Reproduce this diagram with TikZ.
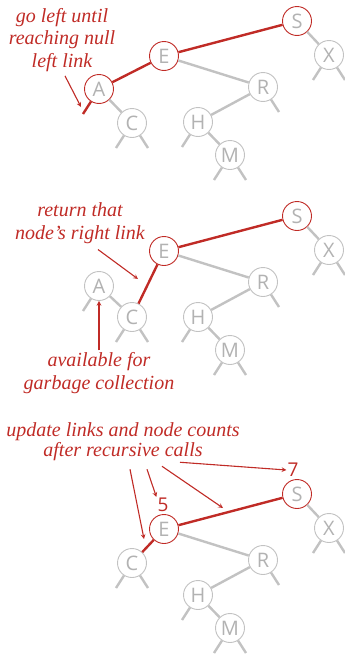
\documentclass[tikz,border=0pt]{standalone}
\usepackage{fontspec}
\setsansfont{Open Sans}
\newfontfamily\notefont{Liberation Serif}
\usepackage{tikz}
\usetikzlibrary{arrows, positioning, calc}
\definecolor{bookred}{RGB}{192,43,38}
\definecolor{linkgray}{RGB}{194,194,194}
\definecolor{keygray}{RGB}{178,178,178}

\begin{document}
\begin{tikzpicture}[
    x=1pt, y=-1pt,
    bstnode/.style={circle, draw=linkgray, line width=0.9pt, fill=white, minimum size=29pt, inner sep=0pt, text=keygray, font=\sffamily\fontsize{20}{20}\selectfont},
    hot/.style={draw=bookred},
    link/.style={draw=linkgray, line width=2.4pt},
    redlink/.style={draw=bookred, line width=2.4pt},
    note/.style={text=bookred, align=center, inner sep=2pt, font=\notefont\itshape\fontsize{20}{22.5}\selectfont},
    count/.style={text=bookred, inner sep=1pt, font=\sffamily\fontsize{19}{19}\selectfont},
    arrow/.style={draw=bookred, line width=1.1pt, ->, >=stealth}
]
    \useasboundingbox (0,0) rectangle (345,656);

    % go left until reaching null left link
    \node (S1) [bstnode, hot] at (297,21) {S};
    \node (X1) [bstnode] at (329,55) {X};
    \node (E1) [bstnode, hot] at (164,56) {E};
    \node (A1) [bstnode, hot] at (99,89) {A};
    \node (R1) [bstnode] at (263,87) {R};
    \node (C1) [bstnode] at (132,123) {C};
    \node (H1) [bstnode] at (198,122) {H};
    \node (M1) [bstnode] at (230,155) {M};

    \draw [redlink] (S1) -- (E1);
    \draw [redlink] (E1) -- (A1);
    \draw [redlink] (A1) -- ++(-16,25) coordinate (A1l);
    \draw [link] (S1) -- (X1);
    \draw [link] (E1) -- (R1);
    \draw [link] (A1) -- (C1);
    \draw [link] (R1) -- (H1);
    \draw [link] (H1) -- (M1);
    \draw [link] (X1) -- ++(-16,25) coordinate (X1l);
    \draw [link] (X1) -- ++(16,25) coordinate (X1r);
    \draw [link] (R1) -- ++(16,25) coordinate (R1r);
    \draw [link] (C1) -- ++(-16,25) coordinate (C1l);
    \draw [link] (C1) -- ++(16,25) coordinate (C1r);
    \draw [link] (H1) -- ++(-16,25) coordinate (H1l);
    \draw [link] (M1) -- ++(-16,25) coordinate (M1l);
    \draw [link] (M1) -- ++(16,25) coordinate (M1r);

    \node (note1) [note] at (62,40) {go left until\\reaching null\\left link};
    \coordinate (nullA1) at (81,107);
    \draw [arrow] ([xshift=3pt,yshift=-2pt]note1.south) -- (nullA1);

    % return that node's right link
    \begin{scope}[yshift=-195pt]
    \node (S2) [bstnode, hot] at (297,21) {S};
    \node (X2) [bstnode] at (329,55) {X};
    \node (E2) [bstnode, hot] at (164,56) {E};
    \node (A2) [bstnode] at (99,91) {A};
    \node (R2) [bstnode] at (263,87) {R};
    \node (C2) [bstnode] at (132,122) {C};
    \node (H2) [bstnode] at (198,122) {H};
    \node (M2) [bstnode] at (230,155) {M};

    \draw [redlink] (S2) -- (E2);
    \draw [redlink] (E2) -- (C2);
    \draw [link] (S2) -- (X2);
    \draw [link] (E2) -- (R2);
    \draw [link] (A2) -- (C2);
    \draw [link] (R2) -- (H2);
    \draw [link] (H2) -- (M2);
    \draw [link] (A2) -- ++(-16,25) coordinate (A2l);
    \draw [link] (X2) -- ++(-16,25) coordinate (X2l);
    \draw [link] (X2) -- ++(16,25) coordinate (X2r);
    \draw [link] (R2) -- ++(16,25) coordinate (R2r);
    \draw [link] (C2) -- ++(-16,25) coordinate (C2l);
    \draw [link] (C2) -- ++(16,25) coordinate (C2r);
    \draw [link] (H2) -- ++(-16,25) coordinate (H2l);
    \draw [link] (M2) -- ++(-16,25) coordinate (M2l);
    \draw [link] (M2) -- ++(16,25) coordinate (M2r);

    \node (note2) [note] at (80,28) {return that\\node’s right link};
    \coordinate (EC2) at (138,84);
    \draw [arrow] ([xshift=18pt,yshift=-4pt]note2.south) -- (EC2);

    \node (note3) [note] at (99,178) {available for\\garbage collection};
    \draw [arrow] (note3.north) -- (A2.south);
    \end{scope}

    % update links and node counts
    \begin{scope}[yshift=-473pt]
    \node (S3) [bstnode, hot] at (297,21) {S};
    \node (X3) [bstnode] at (329,55) {X};
    \node (E3) [bstnode, hot] at (164,56) {E};
    \node (C3) [bstnode] at (132,90) {C};
    \node (R3) [bstnode] at (263,87) {R};
    \node (H3) [bstnode] at (198,122) {H};
    \node (M3) [bstnode] at (230,155) {M};

    \draw [redlink] (S3) -- (E3);
    \draw [redlink] (E3) -- (C3);
    \draw [link] (S3) -- (X3);
    \draw [link] (E3) -- (R3);
    \draw [link] (R3) -- (H3);
    \draw [link] (H3) -- (M3);
    \draw [link] (X3) -- ++(-16,25) coordinate (X3l);
    \draw [link] (X3) -- ++(16,25) coordinate (X3r);
    \draw [link] (R3) -- ++(16,25) coordinate (R3r);
    \draw [link] (C3) -- ++(-16,25) coordinate (C3l);
    \draw [link] (C3) -- ++(16,25) coordinate (C3r);
    \draw [link] (H3) -- ++(-16,25) coordinate (H3l);
    \draw [link] (M3) -- ++(-16,25) coordinate (M3l);
    \draw [link] (M3) -- ++(16,25) coordinate (M3r);

    \node (cnt5) [count] at (163,32) {5};
    \node (cnt7) [count] at (293,-3) {7};

    \node (note4) [note, font=\notefont\itshape\fontsize{20}{20}\selectfont] at (123,-31) {update links and node counts\\after recursive calls};
    \coordinate (EC3) at (144,66);
    \coordinate (SE3) at (223,35);
    \draw [arrow] ([xshift=7pt,yshift=-6pt]note4.south) -- (EC3);
    \draw [arrow] ([xshift=24pt,yshift=-6pt]note4.south) -- (cnt5.north west);
    \draw [arrow] ([xshift=39pt,yshift=-3pt]note4.south) -- (SE3);
    \draw [arrow] ([xshift=57pt,yshift=1pt]note4.south) -- (cnt7.west);
    \end{scope}
\end{tikzpicture}
\end{document}
